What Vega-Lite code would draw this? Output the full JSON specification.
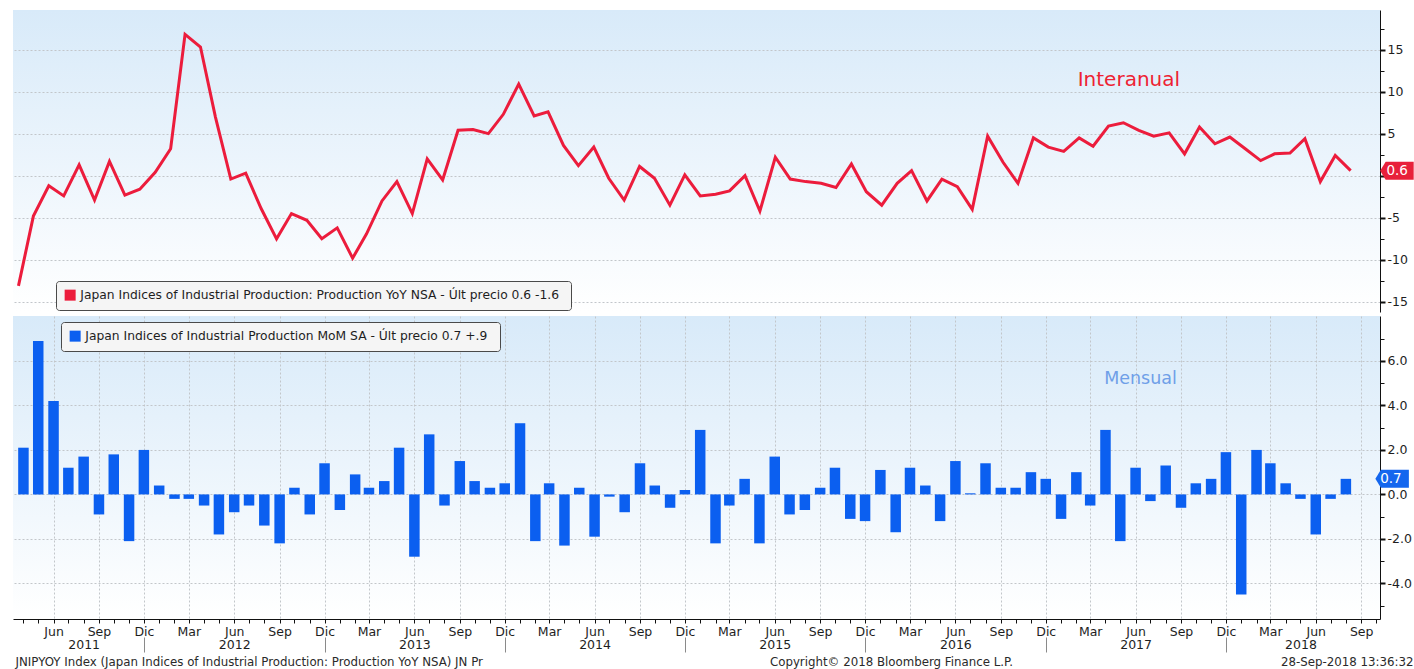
{
  "$schema": "https://vega.github.io/schema/vega-lite/v6.json",
  "padding": {"left": 12, "top": 10, "right": 0, "bottom": 0},
  "background": "white",
  "spacing": 4,
  "bounds": "flush",
  "resolve": {"scale": {"color": "independent"}, "legend": {"color": "independent"}},
  "config": {
    "font": "DejaVu Sans",
    "view": {
      "stroke": null,
      "fill": {"gradient": "linear", "x1": 0, "y1": 0, "x2": 0, "y2": 1,
        "stops": [{"offset": 0, "color": "#d8eaf9"}, {"offset": 1, "color": "#ffffff"}]}
    },
    "axis": {
      "labelFont": "DejaVu Sans", "labelColor": "#1e1e1e", "labelFontSize": 12.5,
      "domainColor": "#111111", "tickColor": "#111111",
      "gridColor": "#c2c6ca", "gridDash": [2, 2], "gridWidth": 1,
      "titleFont": "DejaVu Sans", "titleFontWeight": "normal", "titleColor": "#2a2a2a", "titleFontSize": 11.8
    }
  },
  "datasets": {
    "ip": [
      {"date": "2011-04-01", "yoy": -13.1, "mom": 2.1},
      {"date": "2011-05-01", "yoy": -4.8, "mom": 6.9},
      {"date": "2011-06-01", "yoy": -1.2, "mom": 4.2},
      {"date": "2011-07-01", "yoy": -2.4, "mom": 1.2},
      {"date": "2011-08-01", "yoy": 1.3, "mom": 1.7},
      {"date": "2011-09-01", "yoy": -2.9, "mom": -0.9},
      {"date": "2011-10-01", "yoy": 1.7, "mom": 1.8},
      {"date": "2011-11-01", "yoy": -2.3, "mom": -2.1},
      {"date": "2011-12-01", "yoy": -1.6, "mom": 2.0},
      {"date": "2012-01-01", "yoy": 0.4, "mom": 0.4},
      {"date": "2012-02-01", "yoy": 3.2, "mom": -0.2},
      {"date": "2012-03-01", "yoy": 16.8, "mom": -0.2},
      {"date": "2012-04-01", "yoy": 15.3, "mom": -0.5},
      {"date": "2012-05-01", "yoy": 7.0, "mom": -1.8},
      {"date": "2012-06-01", "yoy": -0.4, "mom": -0.8},
      {"date": "2012-07-01", "yoy": 0.3, "mom": -0.5},
      {"date": "2012-08-01", "yoy": -3.9, "mom": -1.4},
      {"date": "2012-09-01", "yoy": -7.5, "mom": -2.2},
      {"date": "2012-10-01", "yoy": -4.5, "mom": 0.3},
      {"date": "2012-11-01", "yoy": -5.3, "mom": -0.9},
      {"date": "2012-12-01", "yoy": -7.5, "mom": 1.4},
      {"date": "2013-01-01", "yoy": -6.2, "mom": -0.7},
      {"date": "2013-02-01", "yoy": -9.8, "mom": 0.9},
      {"date": "2013-03-01", "yoy": -6.9, "mom": 0.3},
      {"date": "2013-04-01", "yoy": -3.0, "mom": 0.6},
      {"date": "2013-05-01", "yoy": -0.7, "mom": 2.1},
      {"date": "2013-06-01", "yoy": -4.5, "mom": -2.8},
      {"date": "2013-07-01", "yoy": 2.0, "mom": 2.7},
      {"date": "2013-08-01", "yoy": -0.5, "mom": -0.5},
      {"date": "2013-09-01", "yoy": 5.4, "mom": 1.5},
      {"date": "2013-10-01", "yoy": 5.5, "mom": 0.6},
      {"date": "2013-11-01", "yoy": 5.0, "mom": 0.3},
      {"date": "2013-12-01", "yoy": 7.3, "mom": 0.5},
      {"date": "2014-01-01", "yoy": 10.9, "mom": 3.2},
      {"date": "2014-02-01", "yoy": 7.1, "mom": -2.1},
      {"date": "2014-03-01", "yoy": 7.6, "mom": 0.5},
      {"date": "2014-04-01", "yoy": 3.6, "mom": -2.3},
      {"date": "2014-05-01", "yoy": 1.2, "mom": 0.3},
      {"date": "2014-06-01", "yoy": 3.4, "mom": -1.9},
      {"date": "2014-07-01", "yoy": -0.3, "mom": -0.1},
      {"date": "2014-08-01", "yoy": -2.9, "mom": -0.8},
      {"date": "2014-09-01", "yoy": 1.1, "mom": 1.4},
      {"date": "2014-10-01", "yoy": -0.3, "mom": 0.4},
      {"date": "2014-11-01", "yoy": -3.5, "mom": -0.6},
      {"date": "2014-12-01", "yoy": 0.1, "mom": 0.2},
      {"date": "2015-01-01", "yoy": -2.4, "mom": 2.9},
      {"date": "2015-02-01", "yoy": -2.2, "mom": -2.2},
      {"date": "2015-03-01", "yoy": -1.8, "mom": -0.5},
      {"date": "2015-04-01", "yoy": 0.0, "mom": 0.7},
      {"date": "2015-05-01", "yoy": -4.2, "mom": -2.2},
      {"date": "2015-06-01", "yoy": 2.2, "mom": 1.7},
      {"date": "2015-07-01", "yoy": -0.4, "mom": -0.9},
      {"date": "2015-08-01", "yoy": -0.7, "mom": -0.7},
      {"date": "2015-09-01", "yoy": -0.9, "mom": 0.3},
      {"date": "2015-10-01", "yoy": -1.4, "mom": 1.2},
      {"date": "2015-11-01", "yoy": 1.4, "mom": -1.1},
      {"date": "2015-12-01", "yoy": -1.9, "mom": -1.2},
      {"date": "2016-01-01", "yoy": -3.5, "mom": 1.1},
      {"date": "2016-02-01", "yoy": -0.9, "mom": -1.7},
      {"date": "2016-03-01", "yoy": 0.6, "mom": 1.2},
      {"date": "2016-04-01", "yoy": -3.0, "mom": 0.4},
      {"date": "2016-05-01", "yoy": -0.4, "mom": -1.2},
      {"date": "2016-06-01", "yoy": -1.3, "mom": 1.5},
      {"date": "2016-07-01", "yoy": -4.0, "mom": 0.05},
      {"date": "2016-08-01", "yoy": 4.7, "mom": 1.4},
      {"date": "2016-09-01", "yoy": 1.6, "mom": 0.3},
      {"date": "2016-10-01", "yoy": -0.9, "mom": 0.3},
      {"date": "2016-11-01", "yoy": 4.5, "mom": 1.0},
      {"date": "2016-12-01", "yoy": 3.4, "mom": 0.7},
      {"date": "2017-01-01", "yoy": 2.9, "mom": -1.1},
      {"date": "2017-02-01", "yoy": 4.5, "mom": 1.0},
      {"date": "2017-03-01", "yoy": 3.5, "mom": -0.5},
      {"date": "2017-04-01", "yoy": 5.9, "mom": 2.9},
      {"date": "2017-05-01", "yoy": 6.3, "mom": -2.1},
      {"date": "2017-06-01", "yoy": 5.4, "mom": 1.2},
      {"date": "2017-07-01", "yoy": 4.7, "mom": -0.3},
      {"date": "2017-08-01", "yoy": 5.1, "mom": 1.3},
      {"date": "2017-09-01", "yoy": 2.6, "mom": -0.6},
      {"date": "2017-10-01", "yoy": 5.8, "mom": 0.5},
      {"date": "2017-11-01", "yoy": 3.8, "mom": 0.7},
      {"date": "2017-12-01", "yoy": 4.6, "mom": 1.9},
      {"date": "2018-01-01", "yoy": 3.2, "mom": -4.5},
      {"date": "2018-02-01", "yoy": 1.8, "mom": 2.0},
      {"date": "2018-03-01", "yoy": 2.6, "mom": 1.4},
      {"date": "2018-04-01", "yoy": 2.7, "mom": 0.5},
      {"date": "2018-05-01", "yoy": 4.4, "mom": -0.2},
      {"date": "2018-06-01", "yoy": -0.7, "mom": -1.8},
      {"date": "2018-07-01", "yoy": 2.4, "mom": -0.2},
      {"date": "2018-08-01", "yoy": 0.6, "mom": 0.7}
    ]
  },
  "vconcat": [
    {
      "width": 1367,
      "height": 302,
      "data": {"name": "ip"},
      "resolve": {"axis": {"y": "independent"}},
      "layer": [
        {
          "mark": {"type": "line", "color": "#ec1c3c", "strokeWidth": 3},
          "encoding": {
            "x": {
              "field": "date", "type": "temporal",
              "scale": {"type": "utc", "domain": [{"year": 2011, "month": 3, "date": 21, "utc": true}, {"year": 2018, "month": 9, "date": 29, "utc": true}]},
              "axis": {
                "orient": "bottom", "tickCount": {"interval": "month", "step": 1},
                "labels": false, "ticks": false, "domain": true,
                "domainColor": "#8a8a8a", "domainWidth": 3.5, "offset": 2,
                "grid": true,
                "gridOpacity": {"condition": {"test": "utcmonth(datum.value) % 3 == 2", "value": 1}, "value": 0},
                "title": null
              }
            },
            "y": {
              "field": "yoy", "type": "quantitative",
              "scale": {"domain": [-16.2, 19.7], "nice": false, "zero": false},
              "axis": {
                "orient": "right", "values": [-15, -10, -5, 0, 5, 10, 15],
                "labelExpr": "datum.value == 0 ? '' : '' + datum.value", "tickSize": 5, "tickWidth": 2,
                "labelPadding": 2, "grid": true, "title": null
              }
            },
            "color": {
              "datum": "Japan Indices of Industrial Production: Production YoY NSA - Últ precio 0.6  -1.6",
              "type": "nominal",
              "scale": {"range": ["#ec1c3c"]},
              "legend": {
                "orient": "none", "legendX": 43, "legendY": 271, "title": null,
                "symbolType": "square", "symbolSize": 121,
                "symbolFillColor": "#ec1c3c", "symbolStrokeColor": "#ec1c3c", "symbolStrokeWidth": 0,
                "labelFont": "DejaVu Sans", "labelFontSize": 12.3, "labelColor": "#1e1e1e", "labelLimit": 800,
                "strokeColor": "#4a4a4a", "fillColor": "#f5f5f5", "cornerRadius": 3, "padding": 8
              }
            }
          }
        },
        {
          "data": {"values": [{"date": "2017-05-12", "v": 11.4, "label": "Interanual"}]},
          "mark": {"type": "text", "color": "#ee2233", "fontSize": 20, "font": "DejaVu Sans", "align": "center", "baseline": "middle"},
          "encoding": {
            "x": {"field": "date", "type": "temporal", "axis": null},
            "y": {
              "field": "v", "type": "quantitative",
              "axis": {"orient": "right", "values": [-12.5, -7.5, -2.5, 2.5, 7.5, 12.5, 17.5], "tickSize": 4, "labels": false, "domain": false, "grid": false, "title": null}
            },
            "text": {"field": "label"}
          }
        },
        {
          "transform": [{"filter": "utcyear(datum.date) == 2018 && utcmonth(datum.date) == 7"}],
          "mark": {"type": "point", "shape": "M 29.5 0 L 35 -9 L 63 -9 L 63 9 L 35 9 Z", "size": 4, "filled": true, "opacity": 1, "color": "#e8203a", "strokeWidth": 0},
          "encoding": {
            "x": {"field": "date", "type": "temporal", "axis": null},
            "y": {"field": "yoy", "type": "quantitative", "axis": null}
          }
        },
        {
          "transform": [{"filter": "utcyear(datum.date) == 2018 && utcmonth(datum.date) == 7"}],
          "mark": {"type": "text", "color": "white", "fontSize": 13.5, "dx": 46.5, "align": "center", "baseline": "middle", "font": "DejaVu Sans"},
          "encoding": {
            "x": {"field": "date", "type": "temporal", "axis": null},
            "y": {"field": "yoy", "type": "quantitative", "axis": null},
            "text": {"field": "yoy", "type": "quantitative", "format": ".1f"}
          }
        }
      ]
    },
    {
      "width": 1367,
      "height": 303,
      "data": {"name": "ip"},
      "resolve": {"axis": {"x": "independent", "y": "independent"}},
      "layer": [
        {
          "mark": {"type": "bar", "color": "#0b5ff0", "size": 10.5, "align": "center"},
          "encoding": {
            "x": {
              "field": "date", "type": "temporal",
              "scale": {"type": "utc", "domain": [{"year": 2011, "month": 3, "date": 21, "utc": true}, {"year": 2018, "month": 9, "date": 29, "utc": true}]},
              "axis": {
                "orient": "bottom", "tickCount": {"interval": "month", "step": 1},
                "labelExpr": "['','','Mar','','','Jun','','','Sep','','','Dic'][utcmonth(datum.value)]",
                "labelOverlap": false, "labelFlush": false, "labelFontSize": 12.5, "labelPadding": 2,
                "tickSize": 4, "domain": true,
                "grid": true,
                "gridOpacity": {"condition": {"test": "utcmonth(datum.value) % 3 == 2", "value": 1}, "value": 0},
                "title": "JNIPYOY Index (Japan Indices of Industrial Production: Production YoY NSA) JN Pr",
                "titleAnchor": "start", "titleAlign": "left", "titleX": 2, "titleY": 42.5, "titleBaseline": "middle"
              }
            },
            "y": {
              "field": "mom", "type": "quantitative",
              "scale": {"domain": [-5.6, 8.02], "nice": false, "zero": false},
              "axis": {
                "orient": "right", "values": [-4, -2, 0, 2, 4, 6],
                "labelExpr": "(datum.value < 0 ? '-' : '') + format(abs(datum.value), '.1f')",
                "tickSize": 5, "tickWidth": 2, "labelPadding": 2, "grid": true, "title": null
              }
            },
            "color": {
              "datum": "Japan Indices of Industrial Production MoM SA - Últ precio 0.7  +.9",
              "type": "nominal",
              "scale": {"range": ["#0b5ff0"]},
              "legend": {
                "orient": "none", "legendX": 48, "legendY": 6, "title": null,
                "symbolType": "square", "symbolSize": 121,
                "symbolFillColor": "#0b5ff0", "symbolStrokeColor": "#0b5ff0", "symbolStrokeWidth": 0,
                "labelFont": "DejaVu Sans", "labelFontSize": 12.3, "labelColor": "#1e1e1e", "labelLimit": 800,
                "strokeColor": "#4a4a4a", "fillColor": "#f5f5f5", "cornerRadius": 3, "padding": 8
              }
            }
          }
        },
        {
          "data": {"values": [{"date": "2017-06-11", "v": 5.2, "label": "Mensual"}]},
          "mark": {"type": "text", "color": "#6f9fe8", "fontSize": 17.5, "font": "DejaVu Sans", "align": "center", "baseline": "middle"},
          "encoding": {
            "x": {"field": "date", "type": "temporal", "axis": null},
            "y": {
              "field": "v", "type": "quantitative",
              "axis": {"orient": "right", "values": [-5, -3, -1, 1, 3, 5, 7], "tickSize": 4, "labels": false, "domain": false, "grid": false, "title": null}
            },
            "text": {"field": "label"}
          }
        },
        {
          "transform": [{"filter": "utcyear(datum.date) == 2018 && utcmonth(datum.date) == 7"}],
          "mark": {"type": "point", "shape": "M 29.5 0 L 35 -9 L 63 -9 L 63 9 L 35 9 Z", "size": 4, "filled": true, "opacity": 1, "color": "#1466ee", "strokeWidth": 0},
          "encoding": {
            "x": {
              "field": "date", "type": "temporal",
              "axis": {
                "orient": "bottom",
                "values": [
                  {"year": 2011, "month": 12, "date": 1, "utc": true},
                  {"year": 2012, "month": 12, "date": 1, "utc": true},
                  {"year": 2013, "month": 12, "date": 1, "utc": true},
                  {"year": 2014, "month": 12, "date": 1, "utc": true},
                  {"year": 2015, "month": 12, "date": 1, "utc": true},
                  {"year": 2016, "month": 12, "date": 1, "utc": true},
                  {"year": 2017, "month": 12, "date": 1, "utc": true}
                ],
                "offset": 18, "tickSize": 15, "tickColor": "#8a8a8a", "tickWidth": 1,
                "domain": false, "labels": false, "grid": false,
                "title": "Copyright© 2018 Bloomberg Finance L.P.",
                "titleX": 878, "titleY": 24.5, "titleAlign": "center", "titleBaseline": "middle"
              }
            },
            "y": {"field": "mom", "type": "quantitative", "axis": null}
          }
        },
        {
          "transform": [{"filter": "utcyear(datum.date) == 2018 && utcmonth(datum.date) == 7"}],
          "mark": {"type": "text", "color": "white", "fontSize": 13.5, "dx": 45, "align": "center", "baseline": "middle", "font": "DejaVu Sans"},
          "encoding": {
            "x": {
              "field": "date", "type": "temporal",
              "axis": {
                "orient": "bottom",
                "values": [
                  {"year": 2011, "month": 8, "date": 1, "utc": true},
                  {"year": 2012, "month": 6, "date": 1, "utc": true},
                  {"year": 2013, "month": 6, "date": 1, "utc": true},
                  {"year": 2014, "month": 6, "date": 1, "utc": true},
                  {"year": 2015, "month": 6, "date": 1, "utc": true},
                  {"year": 2016, "month": 6, "date": 1, "utc": true},
                  {"year": 2017, "month": 6, "date": 1, "utc": true},
                  {"year": 2018, "month": 5, "date": 1, "utc": true}
                ],
                "labelExpr": "utcFormat(datum.value, '%Y')",
                "ticks": false, "tickSize": 0, "domain": false, "grid": false,
                "labelPadding": 19, "labelFontSize": 12.5, "labelOverlap": false, "labelFlush": false,
                "title": "28-Sep-2018 13:36:32",
                "titleX": 1400, "titleY": 42.5, "titleAlign": "right", "titleBaseline": "middle"
              }
            },
            "y": {"field": "mom", "type": "quantitative", "axis": null},
            "text": {"field": "mom", "type": "quantitative", "format": ".1f"}
          }
        }
      ]
    }
  ]
}
